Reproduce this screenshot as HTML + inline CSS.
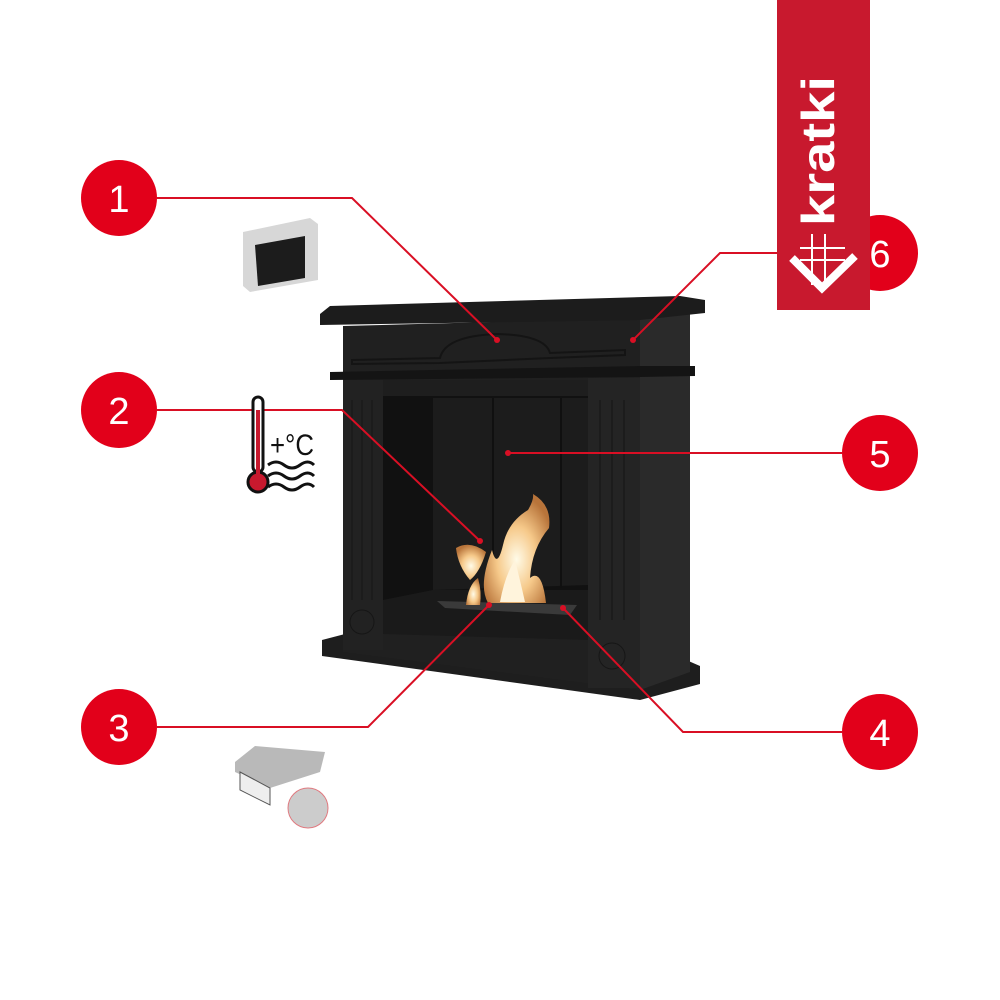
<!DOCTYPE html>
<html><head><meta charset="utf-8"><style>
html,body{margin:0;padding:0;background:#fff;}
svg{display:block;}
</style></head><body>
<svg width="1000" height="1000" viewBox="0 0 1000 1000" xmlns="http://www.w3.org/2000/svg" font-family="Liberation Sans, sans-serif">
<defs>
<radialGradient id="fl" cx="50%" cy="60%" r="60%"><stop offset="0" stop-color="#fffbe8"/><stop offset="0.5" stop-color="#f6c98a"/><stop offset="1" stop-color="#b8743a"/></radialGradient>
</defs>
<!-- base -->
<polygon points="322,640 345,634 640,640 700,666 700,684 640,700 322,656" fill="#1e1e1e"/>
<!-- side face -->
<polygon points="640,318 690,310 690,672 640,690" fill="#2a2a2a"/>
<!-- front body -->
<polygon points="343,326 640,318 640,690 343,652" fill="#202020"/>
<!-- top shelf -->
<polygon points="320,314 330,306 680,296 705,300 705,313 640,320 320,325" fill="#1c1c1c"/>
<!-- lintel -->
<path d="M352,360 L440,358 Q445,336 497,334 Q545,335 550,353 L625,350 L625,355 L550,358 L440,363 L352,364 Z" fill="none" stroke="#141414" stroke-width="2"/>
<!-- middle shelf -->
<polygon points="330,372 640,366 695,366 695,376 640,377 330,380" fill="#141414"/>
<!-- pillars -->
<rect x="343" y="380" width="40" height="270" fill="#222"/>
<rect x="588" y="378" width="52" height="310" fill="#242424"/>
<line x1="352" y1="400" x2="352" y2="600" stroke="#151515"/><line x1="362" y1="400" x2="362" y2="600" stroke="#151515"/><line x1="372" y1="400" x2="372" y2="600" stroke="#151515"/>
<line x1="600" y1="400" x2="600" y2="620" stroke="#151515"/><line x1="612" y1="400" x2="612" y2="620" stroke="#151515"/><line x1="624" y1="400" x2="624" y2="620" stroke="#151515"/>
<circle cx="362" cy="622" r="12" fill="none" stroke="#161616"/>
<circle cx="612" cy="656" r="13" fill="none" stroke="#161616"/>
<!-- opening -->
<polygon points="383,396 588,396 588,598 383,600" fill="#111"/>
<polygon points="433,398 588,398 588,585 433,590" fill="#1c1c1c"/>
<line x1="493" y1="398" x2="493" y2="588" stroke="#101010" stroke-width="2"/>
<line x1="561" y1="398" x2="561" y2="588" stroke="#101010" stroke-width="2"/>
<polygon points="383,600 433,590 588,590 588,640 383,634" fill="#1a1a1a"/>
<rect x="383" y="380" width="205" height="16" fill="#1e1e1e"/>
<!-- burner -->
<polygon points="437,601 577,605 570,615 445,608" fill="#3a3a3a"/>
<!-- flames -->
<path d="M456,548 Q470,540 486,552 Q480,572 470,580 Q458,566 456,548Z" fill="url(#fl)"/>
<path d="M488,603 Q478,585 492,550 Q497,570 503,545 Q508,522 528,510 Q534,500 533,494 Q552,505 549,528 Q532,548 530,578 Q542,568 546,603 Z" fill="url(#fl)"/>
<path d="M466,605 Q468,585 478,578 Q482,592 480,605Z" fill="url(#fl)"/>
<path d="M500,602 Q505,575 515,560 Q520,580 525,602Z" fill="#fff4dc"/>
<!-- leader lines -->
<g stroke="#d90f24" stroke-width="2" fill="none">
<polyline points="157,198 352,198 497,340"/>
<polyline points="157,410 342,410 480,541"/>
<polyline points="157,727 368,727 489,605"/>
<polyline points="842,732 683,732 563,608"/>
<polyline points="842,453 508,453"/>
<polyline points="842,253 720,253 633,340"/>
</g>
<g fill="#d90f24">
<circle cx="497" cy="340" r="3"/><circle cx="480" cy="541" r="3"/><circle cx="489" cy="605" r="3"/>
<circle cx="563" cy="608" r="3"/><circle cx="508" cy="453" r="3"/><circle cx="633" cy="340" r="3"/>
</g>
<!-- circles -->
<g fill="#e2001a">
<circle cx="119" cy="198" r="38"/><circle cx="119" cy="410" r="38"/><circle cx="119" cy="727" r="38"/>
<circle cx="880" cy="732" r="38"/><circle cx="880" cy="453" r="38"/><circle cx="880" cy="253" r="38"/>
</g>
<g fill="#fff" font-size="38" text-anchor="middle">
<text x="119" y="212">1</text><text x="119" y="424">2</text><text x="119" y="741">3</text>
<text x="880" y="746">4</text><text x="880" y="467">5</text>
</g>
<!-- banner -->
<rect x="777" y="0" width="93" height="310" fill="#c8192e"/>
<text x="880" y="267" fill="#fff" font-size="38" text-anchor="middle">6</text>
<text transform="translate(834,226) rotate(-90)" fill="#fff" font-size="46" font-weight="bold" textLength="150" lengthAdjust="spacingAndGlyphs">kratki</text>
<g stroke="#fff" stroke-width="2" fill="none">
<line x1="800" y1="248" x2="845" y2="248"/><line x1="800" y1="260" x2="845" y2="260"/>
<line x1="812" y1="234" x2="812" y2="285"/><line x1="825" y1="234" x2="825" y2="285"/>
</g>
<polyline points="792,258 822,288 855,256" stroke="#fff" stroke-width="8" fill="none"/>
<!-- thumbnail 1 -->
<polygon points="243,232 310,218 318,224 318,280 250,292 243,286" fill="#d7d7d7"/>
<polygon points="255,245 305,236 305,278 258,286" fill="#1c1c1c"/>
<!-- thermometer icon -->
<rect x="253" y="397" width="10" height="75" rx="5" fill="#fff" stroke="#111" stroke-width="3"/>
<circle cx="258" cy="482" r="10" fill="#c8192e" stroke="#111" stroke-width="3"/>
<rect x="256" y="410" width="4" height="65" fill="#c8192e"/>
<text x="270" y="455" font-size="30" fill="#111" textLength="44" lengthAdjust="spacingAndGlyphs">+°C</text>
<g stroke="#111" stroke-width="3" fill="none">
<path d="M268,465 q8,-6 16,0 t16,0 t14,0"/><path d="M268,476 q8,-6 16,0 t16,0 t14,0"/><path d="M268,487 q8,-6 16,0 t16,0 t14,0"/>
</g>
<!-- burner thumbnail -->
<polygon points="235,762 255,746 325,752 320,772 270,788 235,772" fill="#b9b9b9"/>
<polygon points="240,772 270,788 270,805 240,790" fill="#eee" stroke="#555"/>
<circle cx="308" cy="808" r="20" fill="#ccc" stroke="#e07a80"/>
</svg>
</body></html>
